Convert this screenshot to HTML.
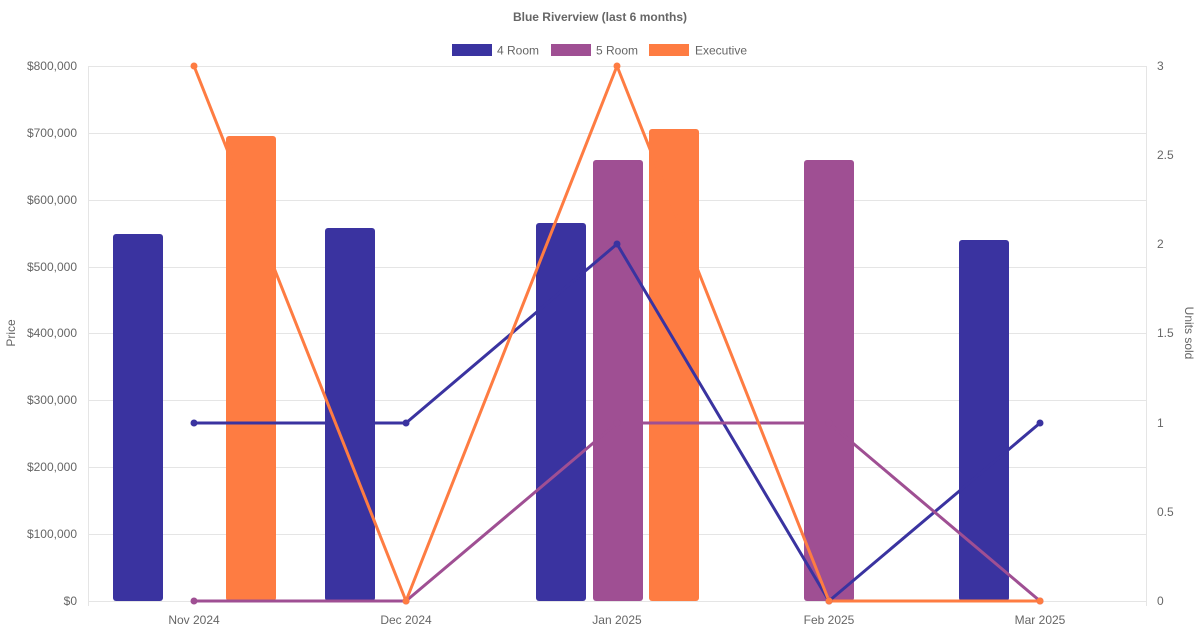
<!DOCTYPE html>
<html><head><meta charset="utf-8"><style>
html,body{margin:0;padding:0;background:#fff;}
svg{display:block;font-family:"Liberation Sans",sans-serif;}
</style></head><body>
<svg width="1200" height="630" viewBox="0 0 1200 630">
<text x="600" y="21" text-anchor="middle" font-size="12" font-weight="bold" fill="#666">Blue Riverview (last 6 months)</text>
<rect x="452" y="44" width="40" height="12" fill="#3a33a0"/>
<text x="497" y="54.5" font-size="12" fill="#666">4 Room</text>
<rect x="551" y="44" width="40" height="12" fill="#9f4f93"/>
<text x="596" y="54.5" font-size="12" fill="#666">5 Room</text>
<rect x="649" y="44" width="40" height="12" fill="#fe7c42"/>
<text x="695" y="54.5" font-size="12" fill="#666">Executive</text>
<g stroke="#e5e5e5" stroke-width="1">
<line x1="88" y1="66.5" x2="1147" y2="66.5"/>
<line x1="88" y1="133.5" x2="1147" y2="133.5"/>
<line x1="88" y1="200.5" x2="1147" y2="200.5"/>
<line x1="88" y1="267.5" x2="1147" y2="267.5"/>
<line x1="88" y1="333.5" x2="1147" y2="333.5"/>
<line x1="88" y1="400.5" x2="1147" y2="400.5"/>
<line x1="88" y1="467.5" x2="1147" y2="467.5"/>
<line x1="88" y1="534.5" x2="1147" y2="534.5"/>
<line x1="88" y1="601.5" x2="1147" y2="601.5"/>
<line x1="88.5" y1="66" x2="88.5" y2="606"/>
<line x1="1146.5" y1="66" x2="1146.5" y2="606"/>
</g>
<g font-size="12" fill="#666" text-anchor="end">
<text x="77" y="70">$800,000</text><text x="77" y="137">$700,000</text><text x="77" y="204">$600,000</text><text x="77" y="271">$500,000</text><text x="77" y="337">$400,000</text><text x="77" y="404">$300,000</text><text x="77" y="471">$200,000</text><text x="77" y="538">$100,000</text><text x="77" y="605">$0</text>
</g>
<g font-size="12" fill="#666">
<text x="1157" y="70">3</text><text x="1157" y="159">2.5</text><text x="1157" y="248">2</text><text x="1157" y="337">1.5</text><text x="1157" y="427">1</text><text x="1157" y="516">0.5</text><text x="1157" y="605">0</text>
</g>
<g font-size="12" fill="#666" text-anchor="middle">
<text x="194" y="624">Nov 2024</text><text x="406" y="624">Dec 2024</text><text x="617" y="624">Jan 2025</text><text x="829" y="624">Feb 2025</text><text x="1040" y="624">Mar 2025</text>
</g>
<text transform="translate(15,333) rotate(-90)" text-anchor="middle" font-size="12" fill="#666">Price</text>
<text transform="translate(1185,333) rotate(90)" text-anchor="middle" font-size="12" fill="#666">Units sold</text>
<g fill="#3a33a0">
<rect x="113" y="234" width="50" height="367" rx="3"/>
<rect x="325" y="228" width="50" height="373" rx="3"/>
<rect x="536" y="223" width="50" height="378" rx="3"/>
<rect x="959" y="240" width="50" height="361" rx="3"/>
</g>
<g fill="#9f4f93">
<rect x="593" y="160" width="50" height="441" rx="3"/>
<rect x="804" y="160" width="50" height="441" rx="3"/>
</g>
<g fill="#fe7c42">
<rect x="226" y="136" width="50" height="465" rx="3"/>
<rect x="649" y="129" width="50" height="472" rx="3"/>
</g>
<g fill="none" stroke-width="3" stroke-linejoin="round">
<polyline stroke="#3a33a0" points="194,423 406,423 617,244 829,601 1040,423"/>
<polyline stroke="#9f4f93" points="194,601 406,601 617,423 829,423 1040,601"/>
<polyline stroke="#fe7c42" points="194,66 406,601 617,66 829,601 1040,601"/>
</g>
<g fill="#3a33a0"><circle cx="194" cy="423" r="3.5"/><circle cx="406" cy="423" r="3.5"/><circle cx="617" cy="244" r="3.5"/><circle cx="829" cy="601" r="3.5"/><circle cx="1040" cy="423" r="3.5"/></g>
<g fill="#9f4f93"><circle cx="194" cy="601" r="3.5"/><circle cx="406" cy="601" r="3.5"/><circle cx="617" cy="423" r="3.5"/><circle cx="829" cy="423" r="3.5"/><circle cx="1040" cy="601" r="3.5"/></g>
<g fill="#fe7c42"><circle cx="194" cy="66" r="3.5"/><circle cx="406" cy="601" r="3.5"/><circle cx="617" cy="66" r="3.5"/><circle cx="829" cy="601" r="3.5"/><circle cx="1040" cy="601" r="3.5"/></g>
</svg>
</body></html>
